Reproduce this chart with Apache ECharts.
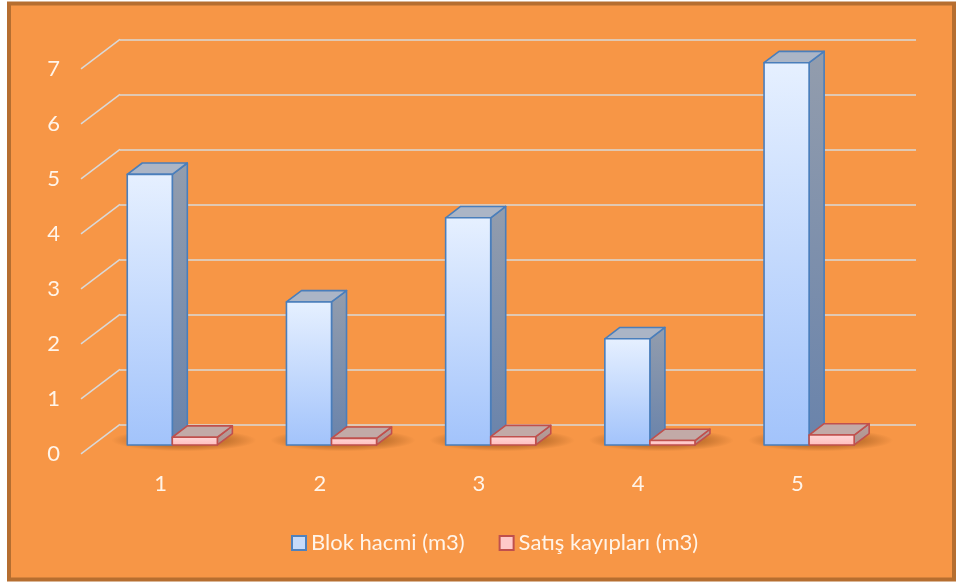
<!DOCTYPE html>
<html>
<head>
<meta charset="utf-8">
<script src="https://cdn.jsdelivr.net/npm/echarts@6/dist/echarts.min.js"></script>
<style>
  html, body { margin: 0; padding: 0; background: #ffffff; }
  #chart { width: 961px; height: 585px; }
</style>
</head>
<body>
<div id="chart"></div>
<script>
// Chart data
const categories = ['1', '2', '3', '4', '5'];
const blokHacmi = [4.92, 2.60, 4.13, 1.93, 6.95];
const satisKayiplari = [0.14, 0.12, 0.15, 0.08, 0.18];
const yTicks = [0, 1, 2, 3, 4, 5, 6, 7];
const seriesNames = ['Blok hacmi (m3)', 'Satış kayıpları (m3)'];

// Oblique 3D layout: grid 0 is the back wall, grid 1 is the front floor edge.
const BACK = { left: 120, top: 39.3, width: 796, height: 385 };
const FRONT = { left: 81, top: 68.8, width: 796, height: 385 };
const DX = FRONT.left - BACK.left;
const DY = FRONT.top - BACK.top;
const D_FRONT = 0.3;   // depth of the bar front faces (0 = front edge, 1 = back wall)
const D_BACK = 0.685;  // depth of the bar back faces
const BAR_FRAC = 0.283;

const TEXT = '#fff4e9';
const FONT = 'Lato';
const FONT_SIZE = 22;

function proj(x, y, d) {
  return [x + DX * (1 - d), y + DY * (1 - d)];
}

function vgrad(c0, c1) {
  return { type: 'linear', x: 0, y: 0, x2: 0, y2: 1,
    colorStops: [{ offset: 0, color: c0 }, { offset: 1, color: c1 }] };
}

const blueStyle = {
  side: -1,
  stroke: '#4a7ebb',
  front: vgrad('#e6f0ff', '#a2c3fb'),
  top: '#abb5c6',
  flank: vgrad('#939dad', '#6983ab'),
  shadow: true
};
const redStyle = {
  side: 1,
  stroke: '#c0504d',
  front: vgrad('#ffd8d8', '#ffbdbd'),
  top: '#c2aaa7',
  flank: vgrad('#b9a09c', '#ad918d'),
  shadow: false
};

function makeBar(st) {
  return function (params, api) {
    const i = api.value(0);
    const v = api.value(1);
    const top = api.coord([i, v]);
    const base = api.coord([i, 0]);
    const band = api.size([1, 0])[0];
    const w = band * BAR_FRAC;
    const x0 = st.side < 0 ? top[0] - w : top[0];
    const x1 = x0 + w;
    const fTL = proj(x0, top[1], D_FRONT), fTR = proj(x1, top[1], D_FRONT);
    const fBR = proj(x1, base[1], D_FRONT), fBL = proj(x0, base[1], D_FRONT);
    const bTL = proj(x0, top[1], D_BACK), bTR = proj(x1, top[1], D_BACK);
    const bBR = proj(x1, base[1], D_BACK);
    const lw = 1.6;
    const children = [];
    if (st.shadow) {
      // soft floor shadow under the pair of bars
      const c = proj(top[0], base[1], (D_FRONT + D_BACK) / 2);
      children.push({
        type: 'circle',
        x: c[0] + 4, y: c[1] + 1,
        scaleX: 6.6, scaleY: 1,
        shape: { cx: 0, cy: 0, r: 11 },
        style: { fill: { type: 'radial', x: 0.5, y: 0.5, r: 0.5,
          colorStops: [{ offset: 0, color: 'rgba(95,45,0,0.5)' },
                       { offset: 0.6, color: 'rgba(95,45,0,0.3)' },
                       { offset: 1, color: 'rgba(95,45,0,0)' }] } }
      });
    }
    children.push({
      type: 'polygon', shape: { points: [fTR, bTR, bBR, fBR] },
      style: { fill: st.flank, stroke: st.stroke, lineWidth: lw, lineJoin: 'round' }
    });
    children.push({
      type: 'polygon', shape: { points: [fTL, fTR, bTR, bTL] },
      style: { fill: st.top, stroke: st.stroke, lineWidth: lw, lineJoin: 'round' }
    });
    children.push({
      type: 'polygon', shape: { points: [fTL, fTR, fBR, fBL] },
      style: { fill: st.front, stroke: st.stroke, lineWidth: lw, lineJoin: 'round' }
    });
    return { type: 'group', children: children };
  };
}

// Diagonal side-wall gridlines joining the front edge to the back wall
function renderSideLine(params, api) {
  const p = api.coord([0, api.value(1)]);
  const x = params.coordSys.x;
  return {
    type: 'line',
    shape: { x1: x + DX, y1: p[1] + DY, x2: x, y2: p[1] },
    style: { stroke: '#d9d9d9', lineWidth: 1.5 }
  };
}

const chart = echarts.init(document.getElementById('chart'), null, { renderer: 'canvas' });

chart.setOption({
  animation: false,
  backgroundColor: '#ffffff',
  graphic: {
    elements: [{
      type: 'rect', z: -100, silent: true,
      shape: { x: 9, y: 3.5, width: 945, height: 576 },
      style: { fill: '#f79646', stroke: '#b66e30', lineWidth: 4 }
    }]
  },
  grid: [
    { left: BACK.left, top: BACK.top, width: BACK.width, height: BACK.height },
    { left: FRONT.left, top: FRONT.top, width: FRONT.width, height: FRONT.height }
  ],
  xAxis: [
    { gridIndex: 0, type: 'category', data: categories, show: false },
    { gridIndex: 1, type: 'category', data: categories,
      axisLine: { show: false }, axisTick: { show: false },
      axisLabel: { color: TEXT, fontSize: FONT_SIZE, fontFamily: FONT, margin: 19 } }
  ],
  yAxis: [
    { gridIndex: 0, type: 'value', min: 0, max: 7, interval: 1,
      axisLine: { show: false }, axisTick: { show: false }, axisLabel: { show: false },
      splitLine: { lineStyle: { color: '#d9d9d9', width: 1.5 } } },
    { gridIndex: 1, type: 'value', min: 0, max: 7, interval: 1,
      axisLine: { show: false }, axisTick: { show: false }, splitLine: { show: false },
      axisLabel: { color: TEXT, fontSize: FONT_SIZE, fontFamily: FONT, margin: 21 } }
  ],
  legend: {
    left: 286, top: 527,
    itemWidth: 14, itemHeight: 14, itemGap: 34,
    icon: 'rect',
    textStyle: { color: TEXT, fontSize: FONT_SIZE, fontFamily: FONT },
    data: [
      { name: seriesNames[0], itemStyle: { color: '#c6daf9', borderColor: '#4f81bd', borderWidth: 2 } },
      { name: seriesNames[1], itemStyle: { color: '#ffc9c9', borderColor: '#c0504d', borderWidth: 2 } }
    ]
  },
  series: [
    { type: 'custom', name: 'side-grid', xAxisIndex: 0, yAxisIndex: 0, silent: true, z: 1,
      renderItem: renderSideLine, encode: { x: 0, y: 1 },
      data: yTicks.map(function (v) { return [0, v]; }) },
    { type: 'custom', name: seriesNames[0], xAxisIndex: 0, yAxisIndex: 0, z: 2,
      renderItem: makeBar(blueStyle), encode: { x: 0, y: 1 },
      itemStyle: { color: '#c6daf9' },
      data: blokHacmi.map(function (v, i) { return [i, v]; }) },
    { type: 'custom', name: seriesNames[1], xAxisIndex: 0, yAxisIndex: 0, z: 3,
      renderItem: makeBar(redStyle), encode: { x: 0, y: 1 },
      itemStyle: { color: '#ffc9c9' },
      data: satisKayiplari.map(function (v, i) { return [i, v]; }) }
  ]
});
</script>
</body>
</html>
